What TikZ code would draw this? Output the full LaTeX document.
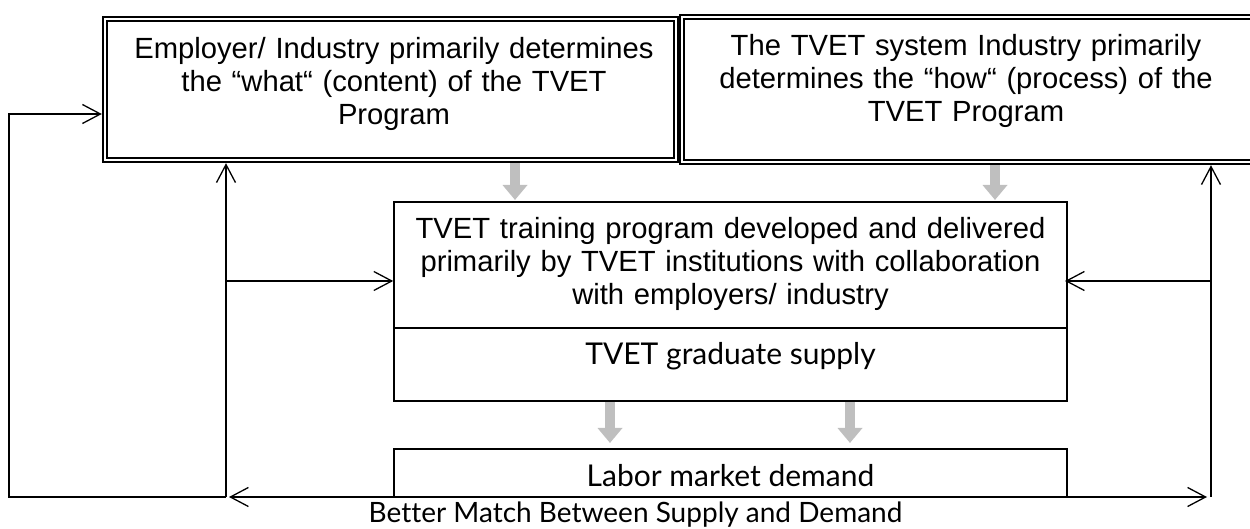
\documentclass[tikz,border=0pt]{standalone}
\usepackage{fontspec}
\setmainfont{Liberation Sans}
\newfontfamily\gillfont[Ligatures=NoCommon]{Lato}
\usetikzlibrary{arrows.meta,calc}
\begin{document}
\begin{tikzpicture}[x=0.5pt,y=-0.5pt,
  dbox/.style={draw, line width=0.9pt, double, double distance=1.4pt, inner sep=0pt, outer sep=0pt},
  sbox/.style={draw, line width=0.75pt, inner sep=0pt, outer sep=0pt},
  atxt/.style={font={\fontsize{14.6}{16.5}\selectfont}, align=center, text width=300pt, inner sep=0pt, anchor=base},
  gtxt/.style={font={\gillfont\fontsize{15}{17}\selectfont}, inner sep=0pt, anchor=base},
  ar/.style={line width=0.65pt, -{Straight Barb[length=9pt,width=9.5pt,line width=0.65pt]}},
  arboth/.style={line width=0.65pt, {Straight Barb[length=9pt,width=9.5pt,line width=0.65pt]}-{Straight Barb[length=9pt,width=9.5pt,line width=0.65pt]}},
  garrow/.style={draw=black!25, line width=5pt, -{Triangle[length=7.5pt,width=12pt]}}
]
\clip (0,0) rectangle (1250,529);
% boxes
\node[dbox, minimum width=285.5pt, minimum height=70.5pt] (A) at (390.5,89.5) {};
\node[dbox, minimum width=285.5pt, minimum height=72.5pt] (B) at (967.5,89.5) {};
\node[sbox, minimum width=336.5pt, minimum height=63pt] (C1) at (730.5,265) {};
\node[sbox, minimum width=336.5pt, minimum height=36.5pt] (C2) at (730.5,364.5) {};
\node[sbox, minimum width=336.5pt, minimum height=24pt] (D) at (730.5,473) {};
% texts
\node[atxt] (At) at (394,59) {Employer/ Industry primarily determines\\the “what“ (content) of the TVET\\Program};
\node[atxt] (Bt) at (966,56) {The TVET system Industry primarily\\determines the “how“ (process) of the\\TVET Program};
\node[atxt, text width=334pt] (C1t) at (730.5,239) {TVET training program developed and delivered\\primarily by TVET institutions with collaboration\\with employers/ industry};
\node[gtxt] (C2t) at (730.5,365) {TVET graduate supply};
\node[gtxt] (Dt) at (730.5,487) {Labor market demand};
\node[gtxt, font={\gillfont\fontsize{14}{16}\selectfont}] (L) at (635.5,523) {Better Match Between Supply and Demand};
% gray arrows
\coordinate (g1) at (515,0);
\coordinate (g2) at (995,0);
\coordinate (g3) at (610,0);
\coordinate (g4) at (850,0);
\draw[garrow, shorten <=1.6pt, shorten >=1pt] (A.south -| g1) -- (C1.north -| g1);
\draw[garrow, shorten <=1.6pt, shorten >=1pt] (B.south -| g2) -- (C1.north -| g2);
\draw[garrow, shorten <=0.4pt, shorten >=3pt] (C2.south -| g3) -- (D.north -| g3);
\draw[garrow, shorten <=0.4pt, shorten >=3pt] (C2.south -| g4) -- (D.north -| g4);
% feedback connectors
\coordinate (xl) at (226,497);
\coordinate (xf) at (9,497);
\coordinate (ya) at (9,114);
\coordinate (xr) at (1211,497);
\coordinate (ym) at (226,281);
\coordinate (yr) at (1211,281);
\coordinate (bl) at (229,497);
\coordinate (br) at (1207,497);
\draw[ar, shorten >=1.6pt] (xl) -- (xf) -- (ya) -- (A.west |- ya);
\draw[ar, shorten >=1.6pt] (xl) -- (A.south -| xl);
\draw[ar, shorten >=0.4pt] (ym) -- (C1.west |- ym);
\draw[ar, shorten >=1.6pt] (xr) -- (B.south -| xr);
\draw[ar, shorten >=-1pt] (yr) -- (C1.east |- yr);
\draw[arboth] (bl) -- (br);
\end{tikzpicture}
\end{document}
